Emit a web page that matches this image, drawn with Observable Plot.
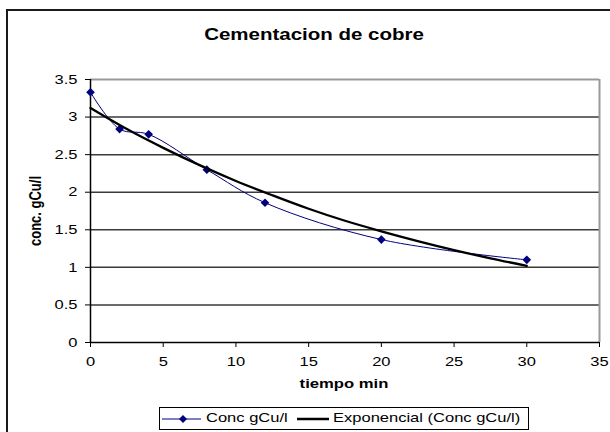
<!DOCTYPE html>
<html>
<head>
<meta charset="utf-8">
<script src="https://cdn.jsdelivr.net/npm/d3@7"></script>
<script src="https://cdn.jsdelivr.net/npm/@observablehq/plot@0.6"></script>
<style>
  html, body { margin: 0; padding: 0; background: #fff; }
  #wrap { position: relative; width: 610px; height: 432px; overflow: hidden; font-family: "Liberation Sans", Arial, sans-serif; color: #000; }
  #border { position: absolute; left: 6px; top: 9px; width: 640px; height: 460px; border: 2px solid #1a1a1a; box-sizing: border-box; }
  #chart { position: absolute; left: 0; top: 0; }
  .lbl { position: absolute; white-space: nowrap; font-weight: bold; }
  .st { display: inline-block; transform-origin: left center; transform: scaleX(1.27); white-space: nowrap; }
</style>
</head>
<body>
<div id="wrap">
  <div id="border"></div>
  <div id="chart"></div>
  <div class="lbl" id="title" style="left:314px; top:35px; font-size:16px; transform: translate(-50%,-50%) scaleX(1.28);">Cementacion de cobre</div>
  <div class="lbl" id="xlabel" style="left:344px; top:383px; font-size:13px; transform: translate(-50%,-50%) scaleX(1.28);">tiempo min</div>
  <div class="lbl" id="ylabel" style="left:35px; top:211px; font-size:13px; transform: translate(-50%,-50%) scaleX(1.28) rotate(-90deg);">conc. gCu/l</div>
  <div id="legend" style="position:absolute; left:159px; top:407px; width:370px; height:23px; border:1px solid #000; box-sizing:border-box; background:#fff;">
    <svg width="40" height="10" style="position:absolute; left:2px; top:6px;">
      <line x1="0" y1="5" x2="39" y2="5" stroke="#000080" stroke-width="1"></line>
      <path d="M21,1 L25,5 L21,9 L17,5 Z" fill="#000080"></path>
    </svg>
    <div style="position:absolute; left:46px; top:2px; font-size:13px; line-height:16px;"><span class="st" id="leg1"></span></div>
    <svg width="34" height="10" style="position:absolute; left:137px; top:6px;">
      <line x1="0" y1="5" x2="32" y2="5" stroke="#000" stroke-width="2.5"></line>
    </svg>
    <div style="position:absolute; left:173px; top:2px; font-size:13px; line-height:16px;"><span class="st" id="leg2"></span></div>
  </div>
</div>
<script>
const time = [0, 2, 4, 8, 12, 20, 30];
const conc = [3.33, 2.84, 2.77, 2.30, 1.86, 1.37, 1.10];

// Exponential trendline values
const trendTime = [0, 2.5, 5, 7.5, 10, 12.5, 15, 17.5, 20, 22.5, 25, 27.5, 30];
const trendConc = [3.12, 2.84, 2.59, 2.36, 2.15, 1.96, 1.78, 1.62, 1.48, 1.35, 1.23, 1.12, 1.02];

const xTicks = [0, 5, 10, 15, 20, 25, 30, 35];
const yTicks = [0, 0.5, 1, 1.5, 2, 2.5, 3, 3.5];
const gridTicks = [0.5, 1, 1.5, 2, 2.5, 3];

const seriesName = "Conc gCu/l";
const trendName = "Exponencial (Conc gCu/l)";

const points = time.map((t, i) => ({t, c: conc[i]}));
const trend = trendTime.map((t, i) => ({t, c: trendConc[i]}));

document.getElementById("leg1").textContent = seriesName;
document.getElementById("leg2").textContent = trendName;

const chart = Plot.plot({
  width: 610,
  height: 432,
  marginLeft: 90,
  marginRight: 11,
  marginTop: 79,
  marginBottom: 90,
  style: {fontFamily: '"Liberation Sans", Arial, sans-serif', fontSize: "13px", color: "#000", background: "transparent", overflow: "visible"},
  x: {domain: [0, 35]},
  y: {domain: [0, 3.5]},
  marks: [
    Plot.gridY(gridTicks, {stroke: "#3a3a3a", strokeOpacity: 1, strokeWidth: 1.5}),
    Plot.ruleY([3.5], {stroke: "#999", strokeWidth: 2}),
    Plot.ruleX([35], {stroke: "#999", strokeWidth: 2}),
    Plot.axisY(yTicks, {tickSize: 5, tickPadding: 8, label: null, tickFormat: d => String(d), stroke: "#000", fontSize: 13}),
    Plot.axisX(xTicks, {tickSize: 5, tickPadding: 9, label: null, tickFormat: d => String(d), stroke: "#000", fontSize: 13}),
    Plot.ruleX([0], {stroke: "#000", strokeWidth: 1.5}),
    Plot.ruleY([0], {stroke: "#000", strokeWidth: 1.5}),
    Plot.line(points, {x: "t", y: "c", stroke: "#000080", strokeWidth: 1, curve: "catmull-rom"}),
    Plot.dot(points, {x: "t", y: "c", symbol: "diamond2", r: 3.9, fill: "#000080", stroke: "none"}),
    Plot.line(trend, {x: "t", y: "c", stroke: "#000", strokeWidth: 2.3, curve: "catmull-rom"})
  ]
});

document.getElementById("chart").appendChild(chart);

// Stretch tick labels horizontally like the reference (wide rendering)
chart.querySelectorAll("text").forEach(el => {
  const tr = el.getAttribute("transform");
  if (tr) {
    el.setAttribute("transform", tr + " scale(1.27,1)");
  } else {
    const x = +el.getAttribute("x") || 0;
    const y = +el.getAttribute("y") || 0;
    el.setAttribute("x", 0);
    el.setAttribute("y", 0);
    el.setAttribute("transform", `translate(${x},${y}) scale(1.27,1)`);
  }
});
</script>
</body>
</html>
